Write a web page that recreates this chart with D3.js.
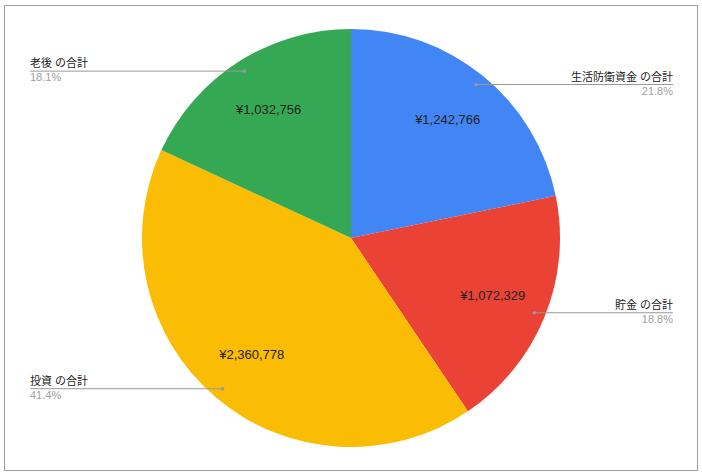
<!DOCTYPE html>
<html><head><meta charset="utf-8">
<script src="https://cdn.jsdelivr.net/npm/d3@7"></script>
<style>
body{margin:0;background:#fff;}
svg{display:block;font-family:Arial,"Liberation Sans","Noto Sans CJK JP",sans-serif;}
</style></head>
<body>
<svg id="c" width="702" height="476"></svg>
<script>
const categories = ["生活防衛資金 の合計", "貯金 の合計", "投資 の合計", "老後 の合計"];
const values = [1242766, 1072329, 2360778, 1032756];
const percentLabels = ["21.8%", "18.8%", "41.4%", "18.1%"];
const valueLabels = ["¥1,242,766", "¥1,072,329", "¥2,360,778", "¥1,032,756"];
const colors = ["#4285f4", "#ea4335", "#fbbc04", "#34a853"];

const svg = d3.select("#c");
svg.append("rect").attr("x",4.5).attr("y",5.5).attr("width",693).attr("height",465)
  .attr("fill","#fff").attr("stroke","#9e9e9e").attr("stroke-width",1);

const cx = 351, cy = 238, R = 209;
const g = svg.append("g").attr("transform",`translate(${cx},${cy})`);
const pie = d3.pie().sort(null).value(d=>d)(values);
const arc = d3.arc().innerRadius(0).outerRadius(R);
g.selectAll("path.s").data(pie).join("path").attr("class","s")
  .attr("d",arc).attr("fill",(d,i)=>colors[i]);

const labArc = d3.arc().innerRadius(153).outerRadius(153);
g.selectAll("text.v").data(pie).join("text").attr("class","v")
  .attr("transform",d=>`translate(${labArc.centroid(d)})`)
  .attr("text-anchor","middle").attr("dy","0.35em")
  .attr("font-size",13).attr("fill","#222")
  .text((d,i)=>valueLabels[i]);

const dotArc = d3.arc().innerRadius(198).outerRadius(198);
pie.forEach((d,i)=>{
  const [px,py] = dotArc.centroid(d);
  const right = px > 0;
  const ex = right ? 673 - cx : 30 - cx;
  g.append("line").attr("x1",px).attr("y1",py).attr("x2",ex).attr("y2",py)
    .attr("stroke","#999").attr("stroke-width",1);
  g.append("circle").attr("cx",px).attr("cy",py).attr("r",1.8).attr("fill","#999");
  g.append("text").attr("x",ex).attr("y",py-4)
    .attr("text-anchor",right?"end":"start").attr("font-size",11).attr("fill","#222")
    .text(categories[i]);
  g.append("text").attr("x",ex).attr("y",py+10)
    .attr("text-anchor",right?"end":"start").attr("font-size",11).attr("fill","#a0a0a0")
    .text(percentLabels[i]);
});
</script>
</body></html>
